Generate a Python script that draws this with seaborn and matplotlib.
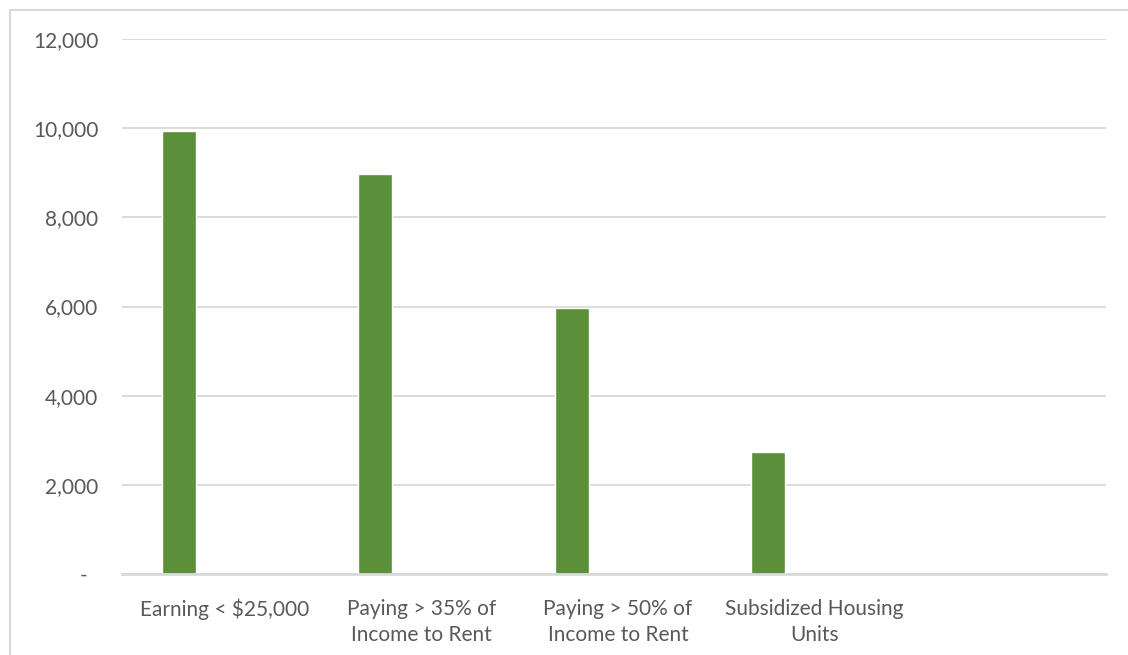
import matplotlib
matplotlib.use("Agg")
import matplotlib.pyplot as plt
import seaborn as sns
import numpy as np
import pandas as pd
from matplotlib.patches import Rectangle

categories = ["Earning < \\$25,000", "Paying > 35% of\nIncome to Rent",
              "Paying > 50% of\nIncome to Rent", "Subsidized Housing\nUnits"]
values = [9930, 8970, 5970, 2740]
yticks = [0, 2000, 4000, 6000, 8000, 10000, 12000]
ytick_labels = ["-  ", "2,000", "4,000", "6,000", "8,000", "10,000", "12,000"]

sns.set_theme(style="white")
plt.rcParams['font.family'] = ['Lato', 'DejaVu Sans']

fig = plt.figure(figsize=(11.28, 6.55), dpi=100)
# chart frame
fig.patches.append(Rectangle((10/1128, -0.1), 1.2, 1 - 10/655 + 0.1, transform=fig.transFigure,
                             fill=False, edgecolor="#D9D9D9", linewidth=1.5))
ax = fig.add_axes([122/1128, 1 - 574/655, (1106 - 122)/1128, (574 - 39)/655])

df = pd.DataFrame({"cat": categories, "val": values})
sns.barplot(data=df, x="cat", y="val", color="#5B8F39", width=0.173, ax=ax,
            saturation=1, zorder=3)

ax.set_xlim(-0.29, 4.72)
ax.set_ylim(0, 12000)
ax.set_xticks(np.arange(len(categories)) + 0.235)
ax.set_xticklabels(categories, fontsize=15, color="#595959", linespacing=1.35)
ax.set_yticks(yticks)
ax.set_yticklabels(ytick_labels, fontsize=15, color="#595959")
ax.tick_params(axis="y", length=0, pad=17)
ax.tick_params(axis="x", length=0, pad=18)
ax.set_xlabel("")
ax.set_ylabel("")
for s in ["top", "right", "left"]:
    ax.spines[s].set_visible(False)
ax.spines["bottom"].set_color("#D9D9D9")
ax.spines["bottom"].set_linewidth(2)
ax.spines["bottom"].set_zorder(4)
ax.yaxis.grid(True, color="#D9D9D9", linewidth=1.3, zorder=0)
ax.set_axisbelow(True)

fig.savefig("out.png", dpi=100)
